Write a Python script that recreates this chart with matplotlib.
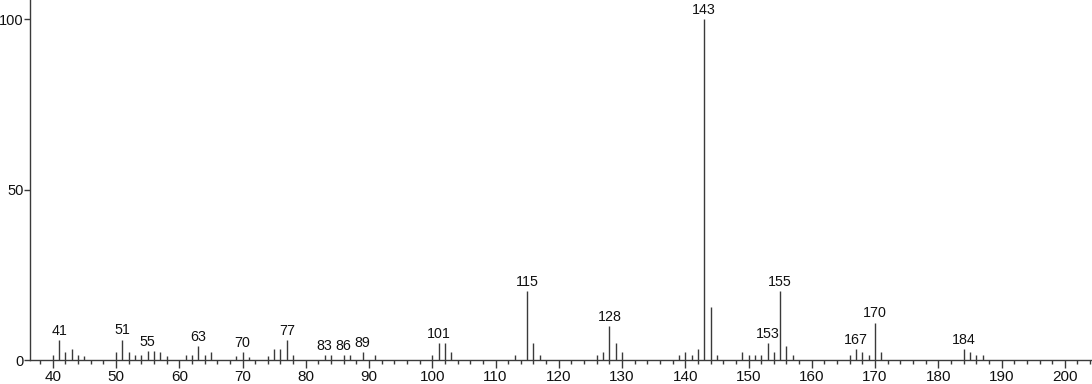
import matplotlib
matplotlib.use("Agg")
import matplotlib.pyplot as plt
from matplotlib.ticker import MultipleLocator

plt.rcParams['font.family'] = ['Liberation Sans', 'DejaVu Sans']

mz = [40, 41, 42, 43, 44, 45, 50, 51, 52, 53, 54, 55, 56, 57, 58,
      61, 62, 63, 64, 65, 69, 70, 71, 74, 75, 76, 77, 78,
      83, 84, 86, 87, 89, 91, 100, 101, 102, 103, 113, 115, 116, 117,
      126, 127, 128, 129, 130, 139, 140, 141, 142, 143, 144, 145,
      149, 150, 151, 152, 153, 154, 155, 156, 157,
      166, 167, 168, 169, 170, 171, 184, 185, 186, 187]
intensity = [1.4, 5.9, 2.4, 3.2, 1.5, 1.3, 2.4, 6.0, 2.4, 1.5, 1.5, 2.5, 2.5, 2.4, 1.3,
             1.4, 1.4, 4.1, 1.5, 2.3, 1.3, 2.3, 0.9, 1.3, 3.2, 3.2, 5.9, 1.4,
             1.4, 1.4, 1.4, 1.4, 2.4, 1.4, 1.4, 4.9, 4.9, 2.4, 1.4, 20.2, 4.9, 1.4,
             1.4, 2.4, 10.0, 5.1, 2.4, 1.4, 2.4, 1.4, 3.2, 100.0, 15.5, 1.4,
             2.4, 1.4, 1.4, 1.4, 4.9, 2.4, 20.2, 4.1, 1.4,
             1.4, 3.2, 2.4, 1.4, 11.0, 2.4, 3.2, 2.4, 1.4, 1.4]
labeled_mz = [41, 51, 55, 63, 70, 77, 83, 86, 89, 101, 115, 128, 143, 153, 155, 167, 170, 184]

x_ticks = [40, 50, 60, 70, 80, 90, 100, 110, 120, 130, 140, 150, 160, 170, 180, 190, 200]
y_ticks = [0, 50, 100]

color = '#3a3a3a'
W, H = 1092, 384
fig = plt.figure(figsize=(W / 100, H / 100), dpi=100)
ax = fig.add_axes([30 / W, 24 / H, 1 - 30 / W, 360 / H])

ax.vlines(mz, 0, intensity, color=color, linewidth=1.0)
lookup = dict(zip(mz, intensity))
for m in labeled_mz:
    ax.annotate(str(m), xy=(m, lookup[m]), xytext=(0, 1.5), textcoords='offset points',
                ha='center', va='bottom', fontsize=10.3, color='#111111')

ax.set_xlim(36.4, 204.3)
ax.set_ylim(0, 105.6)
ax.set_xticks(x_ticks)
ax.set_yticks(y_ticks)
ax.xaxis.set_minor_locator(MultipleLocator(2))
for s in ['top', 'right']:
    ax.spines[s].set_visible(False)
for s in ['left', 'bottom']:
    ax.spines[s].set_color(color)
    ax.spines[s].set_linewidth(1.0)
ax.tick_params(axis='x', which='major', direction='out', length=6, width=1, color=color,
               labelsize=11, pad=1.5, labelcolor='#111111')
ax.tick_params(axis='x', which='minor', direction='out', length=3, width=1, color=color)
ax.tick_params(axis='y', which='major', direction='out', length=4, width=1, color=color,
               labelsize=10.5, pad=0.5, labelcolor='#111111')
ax.set_facecolor('white')
fig.patch.set_facecolor('white')
fig.savefig('out.png', dpi=100)
